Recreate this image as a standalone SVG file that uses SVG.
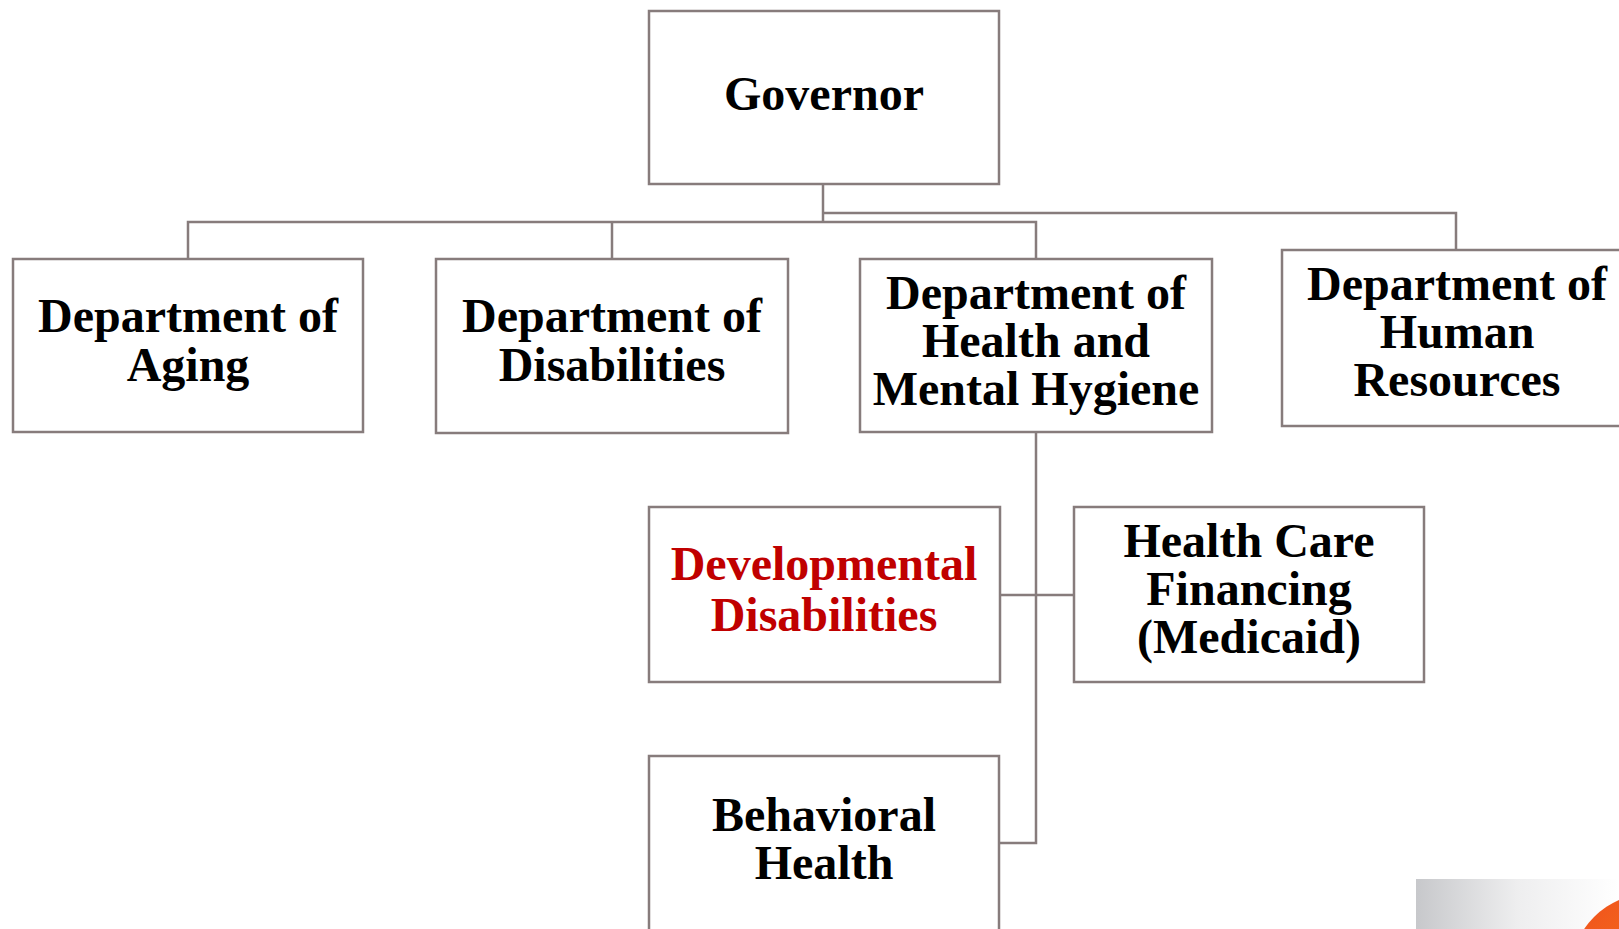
<svg xmlns="http://www.w3.org/2000/svg" width="1619" height="929" viewBox="0 0 1619 929">
  <style>
    .box { fill: #ffffff; stroke: #877c7c; stroke-width: 2.5; }
    .lbl { font-family: "Liberation Serif", "Times New Roman", serif; font-weight: bold; font-size: 48px; fill: #000000; text-anchor: middle; }
    .red { fill: #c00000; }
    .conn { fill: none; stroke: #877c7c; stroke-width: 2.5; }
  </style>
  <defs>
    <linearGradient id="grayGrad" x1="0" y1="0" x2="1" y2="0">
      <stop offset="0" stop-color="#c7c8cb"/>
      <stop offset="0.5" stop-color="#eeeeef"/>
      <stop offset="1" stop-color="#ffffff"/>
    </linearGradient>
    <linearGradient id="orangeGrad" x1="0" y1="0" x2="1" y2="1">
      <stop offset="0" stop-color="#f04e1c"/>
      <stop offset="1" stop-color="#f7931e"/>
    </linearGradient>
  </defs>
  <rect width="1619" height="929" fill="#ffffff"/>

  <g id="connectors">
    <polyline class="conn" points="823,184 823,222"/>
    <polyline class="conn" points="188,259 188,222 1036,222 1036,259"/>
    <polyline class="conn" points="612,222 612,259"/>
    <polyline class="conn" points="823,213 1456,213 1456,250"/>
    <polyline class="conn" points="1036,432 1036,843 1000,843"/>
    <polyline class="conn" points="1000,595 1074,595"/>
  </g>

  <g id="governor">
    <rect class="box" x="649" y="11" width="350" height="173"/>
    <text class="lbl" x="824" y="110">Governor</text>
  </g>
  <g id="aging">
    <rect class="box" x="13" y="259" width="350" height="173"/>
    <text class="lbl" x="188" y="332">Department of</text>
    <text class="lbl" x="188" y="381">Aging</text>
  </g>
  <g id="disabilities">
    <rect class="box" x="436" y="259" width="352" height="174"/>
    <text class="lbl" x="612" y="332">Department of</text>
    <text class="lbl" x="612" y="381">Disabilities</text>
  </g>
  <g id="health-mental-hygiene">
    <rect class="box" x="860" y="259" width="352" height="173"/>
    <text class="lbl" x="1036" y="309">Department of</text>
    <text class="lbl" x="1036" y="357">Health and</text>
    <text class="lbl" x="1036" y="405">Mental Hygiene</text>
  </g>
  <g id="human-resources">
    <rect class="box" x="1282" y="250" width="352" height="176"/>
    <text class="lbl" x="1457" y="300">Department of</text>
    <text class="lbl" x="1457" y="348">Human</text>
    <text class="lbl" x="1457" y="396">Resources</text>
  </g>
  <g id="developmental-disabilities">
    <rect class="box" x="649" y="507" width="351" height="175"/>
    <text class="lbl red" x="824" y="580">Developmental</text>
    <text class="lbl red" x="824" y="631">Disabilities</text>
  </g>
  <g id="health-care-financing">
    <rect class="box" x="1074" y="507" width="350" height="175"/>
    <text class="lbl" x="1249" y="557">Health Care</text>
    <text class="lbl" x="1249" y="605">Financing</text>
    <text class="lbl" x="1249" y="653">(Medicaid)</text>
  </g>
  <g id="behavioral-health">
    <rect class="box" x="649" y="756" width="350" height="200"/>
    <text class="lbl" x="824" y="831">Behavioral</text>
    <text class="lbl" x="824" y="879">Health</text>
  </g>

  <g id="corner-logo">
    <rect x="1416" y="879" width="203" height="50" fill="url(#grayGrad)"/>
    <circle cx="1652" cy="975" r="82" fill="url(#orangeGrad)"/>
  </g>
</svg>
